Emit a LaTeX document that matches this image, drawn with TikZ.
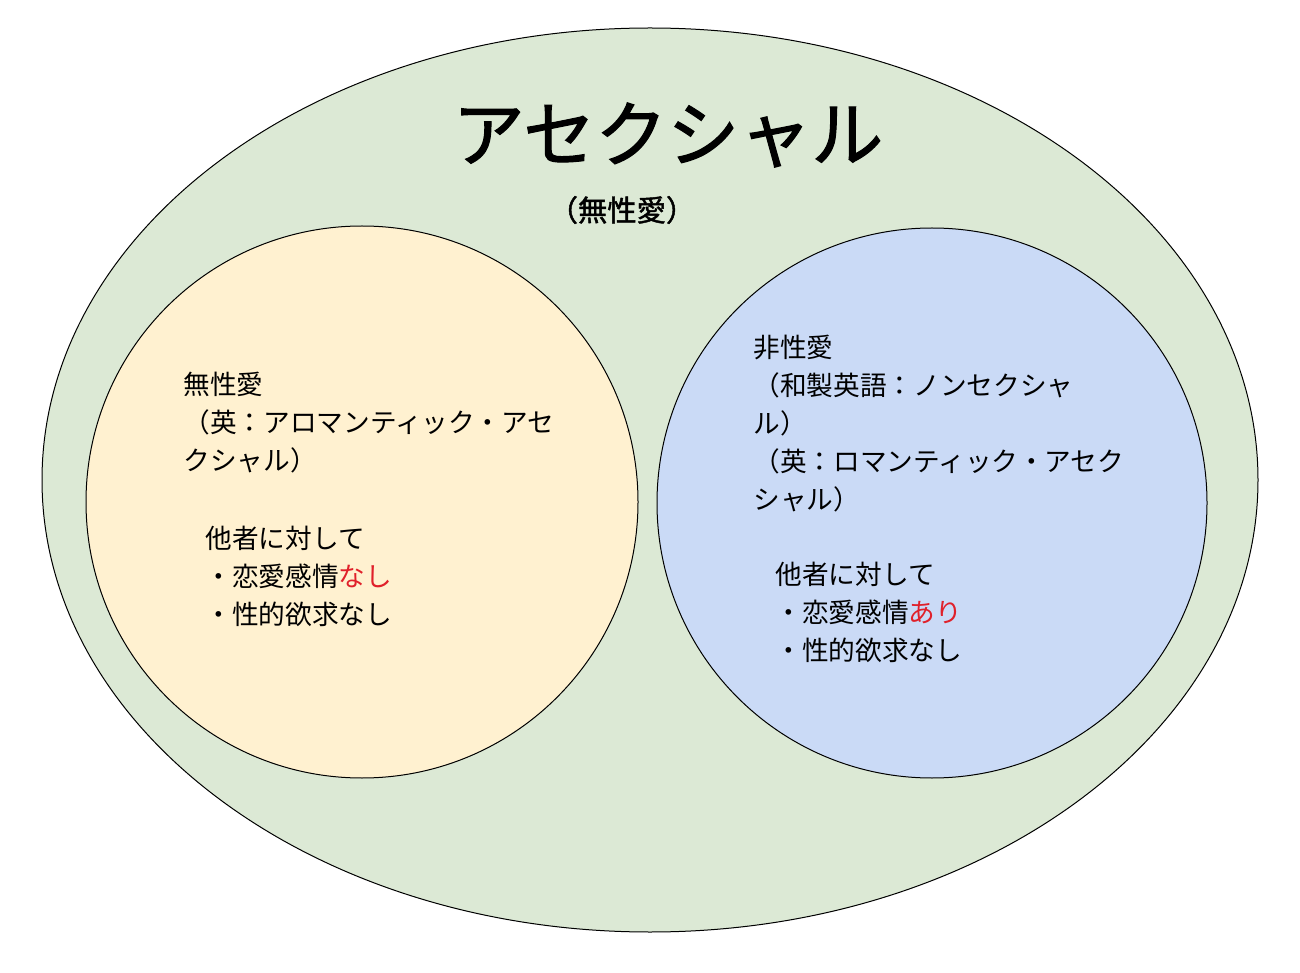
\documentclass[tikz,border=0pt]{standalone}
\usepackage{fontspec}
\setmainfont{Noto Sans CJK JP}
\newfontfamily\jpbold{Noto Sans CJK JP}[FakeBold=1.5]
\definecolor{outergreen}{HTML}{DCE9D5}
\definecolor{leftcream}{HTML}{FFF1D0}
\definecolor{rightblue}{HTML}{CADAF6}
\definecolor{markred}{HTML}{E0202A}
\tikzset{every picture/.style={line width=0.75pt}}
\tikzset{bodytext/.style={anchor=north west,inner sep=0pt,align=left,font=\fontsize{20}{28.5}\selectfont}}

\begin{document}
\begin{tikzpicture}[x=0.75pt,y=0.75pt,yscale=-1,xscale=1]
        \path (0,0) rectangle (1300,973);
        
        %Shape: Ellipse [id:outer]
        \draw  [fill=outergreen] (650,480) ellipse [x radius=608, y radius=452];
        %Shape: Circle [id:left]
        \draw  [fill=leftcream] (362,502) circle [radius=276];
        %Shape: Circle [id:right]
        \draw  [fill=rightblue] (932,503) circle [radius=275];
        
        % Text Node
        \node (title) at (668,135) [inner sep=0.75pt] {\jpbold\fontsize{54}{60}\selectfont アセクシャル};
        % Text Node
        \node (subtitle) at (622,210) [inner sep=0.75pt] {\jpbold\fontsize{22}{26}\selectfont （無性愛）};
        % Text Node
        \node (lefthead) at (183,372) [bodytext] {無性愛\\（英：アロマンティック・アセ\\クシャル）};
        % Text Node
        \node (leftlist) at (205,526) [bodytext] {他者に対して\\・恋愛感情\textcolor{markred}{なし}\\・性的欲求なし};
        % Text Node
        \node (righthead) at (753,335) [bodytext] {非性愛\\（和製英語：ノンセクシャ\\ル）\\（英：ロマンティック・アセク\\シャル）};
        % Text Node
        \node (rightlist) at (775,562) [bodytext] {他者に対して\\・恋愛感情\textcolor{markred}{あり}\\・性的欲求なし};
\end{tikzpicture}
\end{document}
